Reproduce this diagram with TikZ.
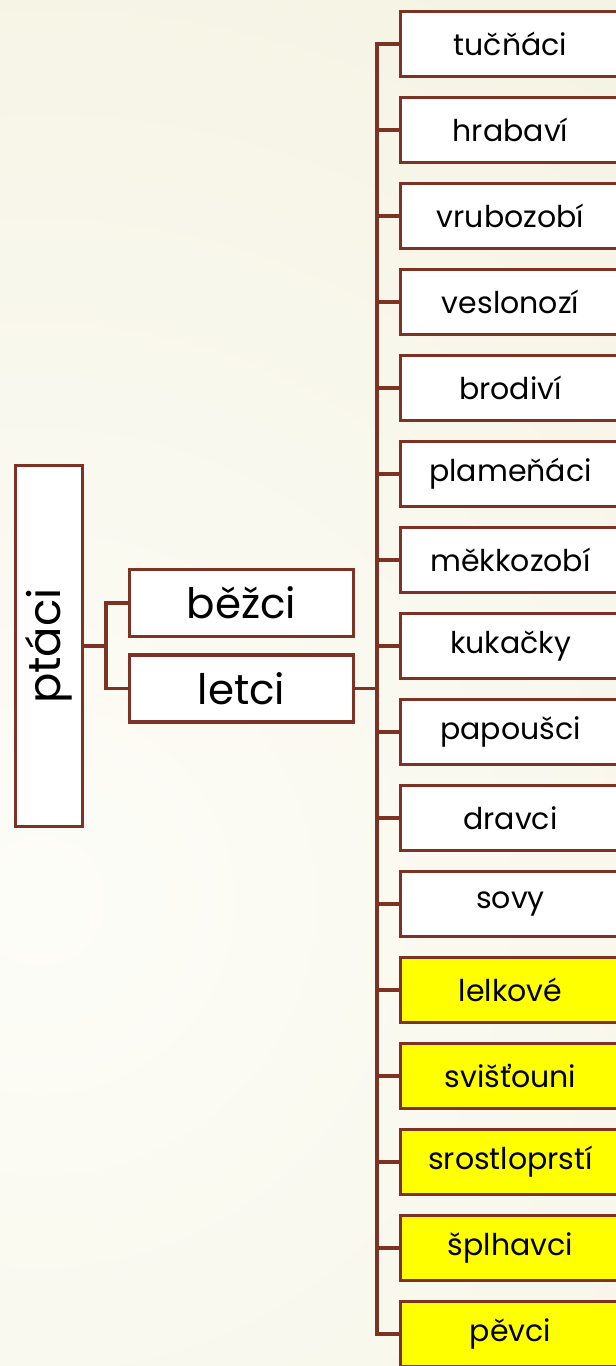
\documentclass[tikz,border=0pt]{standalone}
\usepackage{fontspec}
\setmainfont{Poppins}
\definecolor{rim}{HTML}{7E3223}
\definecolor{bglight}{HTML}{FDFDF8}
\definecolor{bgdark}{HTML}{ECE8CC}
\definecolor{hilite}{HTML}{FFFF00}
\tikzset{
  taxon/.style={draw=rim, line width=3.2pt, fill=white, inner sep=0pt},
  order/.style={taxon, minimum width=220pt, minimum height=65pt, font=\fontsize{30}{30}\selectfont},
  group/.style={taxon, minimum width=224pt, minimum height=67pt, font=\fontsize{42}{42}\selectfont},
  link/.style={draw=rim, line width=3.2pt}
}
\begin{document}
\begin{tikzpicture}[x=1pt, y=-1pt]
  \useasboundingbox (0,0) rectangle (616,1366);
  \begin{scope}
    \clip (0,0) rectangle (616,1366);
    \shade[inner color=bglight, outer color=bgdark] (40,900) circle (2200);

    % class and the two subclasses
    \node[taxon, rotate=90, minimum width=361pt, minimum height=67pt,
      font=\fontsize{45}{45}\selectfont] (ptaci) at (49,646) {ptáci};
    \node[group] (bezci) at (241.5,603) {běžci};
    \node[group] (letci) at (241.5,688.5) {letci};
    \coordinate (fork1) at (106,646);
    \coordinate (fork2) at (377,688.5);
    \draw[link] (ptaci.south) -- (fork1);
    \draw[link] (bezci.west) -| (fork1) |- (letci.west);
    \draw[link] (letci.east) -- (fork2);

    % orders of letci
    \foreach \name [count=\k from 0] in {tučňáci,hrabaví,vrubozobí,veslonozí,brodiví,
        plameňáci,měkkozobí,kukačky,papoušci,dravci,sovy}
      \node[order] (leaf\k) at (510.5,{44+86*\k}) {\name};
    \foreach \name [count=\k from 11] in {lelkové,svišťouni,srostloprstí,šplhavci,pěvci}
      \node[order, fill=hilite] (leaf\k) at (510.5,{44+86*\k}) {\name};
    \draw[link] (leaf0.west) -| (fork2) |- (leaf15.west);
    \foreach \k in {1,...,14}
      \draw[link] (leaf\k.west) -- (leaf\k.west -| fork2);
  \end{scope}
\end{tikzpicture}
\end{document}
